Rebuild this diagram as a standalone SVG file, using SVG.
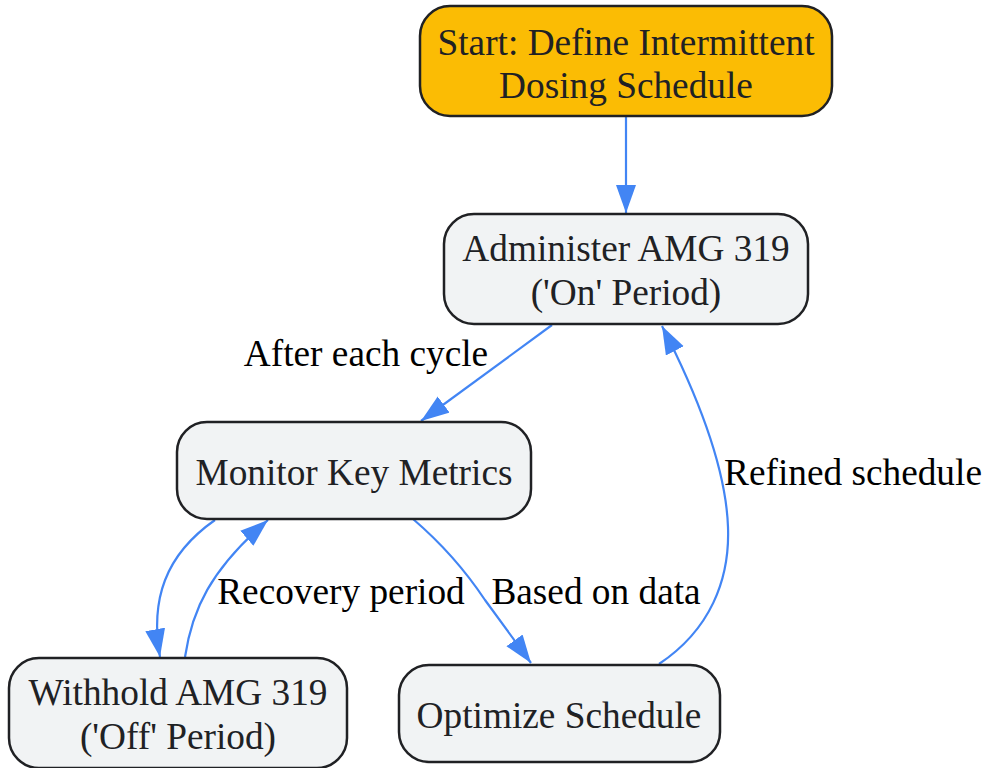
<svg xmlns="http://www.w3.org/2000/svg" width="982" height="768" viewBox="0 0 982 768">
<defs>
<marker id="arr" markerUnits="userSpaceOnUse" markerWidth="30" markerHeight="22" refX="28" refY="10" orient="auto">
<path d="M0,0 L28,10 L0,20 z" fill="#4285F4"/>
</marker>
<style>
.node rect{fill:#F1F3F4;stroke:#202124;stroke-width:2.5}
.node.start rect{fill:#FBBC04}
.node text{font-family:"Liberation Serif","Times New Roman",serif;font-size:37.3px;fill:#202124;text-anchor:middle;dominant-baseline:central}
.edges path{fill:none;stroke:#4285F4;stroke-width:2.2;marker-end:url(#arr)}
.lbl{font-family:"Liberation Serif","Times New Roman",serif;font-size:37.3px;fill:#000;text-anchor:middle;dominant-baseline:central}
</style>
</defs>
<rect width="982" height="768" fill="#fff"/>
<g class="edges">
<path d="M626,117 L626,213"/>
<path d="M552,325 L421,421"/>
<path d="M215,520 C165,555 150,600 160,657"/>
<path d="M185,657 C192,610 210,570 268,520"/>
<path d="M413,519 Q455,555 485,600 L531,663"/>
<path d="M659,664 C710,630 730,580 728,527 C726,470 700,400 662,326"/>
</g>
<g id="labels">
<text class="lbl" x="366" y="353">After each cycle</text>
<text class="lbl" x="341" y="591">Recovery period</text>
<text class="lbl" x="596" y="591">Based on data</text>
<text class="lbl" x="853" y="472">Refined schedule</text>
</g>
<g id="start" class="node start">
<rect x="420" y="6" width="412" height="110" rx="30"/>
<text x="626" y="42">Start: Define Intermittent</text>
<text x="626" y="85">Dosing Schedule</text>
</g>
<g id="administer" class="node">
<rect x="444" y="214" width="364" height="110" rx="30"/>
<text x="626" y="248">Administer AMG 319</text>
<text x="626" y="292">('On' Period)</text>
</g>
<g id="monitor" class="node">
<rect x="177" y="422" width="354" height="97" rx="30"/>
<text x="354" y="472">Monitor Key Metrics</text>
</g>
<g id="withhold" class="node">
<rect x="9" y="658" width="338" height="110" rx="30"/>
<text x="178" y="692">Withhold AMG 319</text>
<text x="178" y="736">('Off' Period)</text>
</g>
<g id="optimize" class="node">
<rect x="399" y="665" width="321" height="97" rx="30"/>
<text x="559" y="715">Optimize Schedule</text>
</g>
</svg>
